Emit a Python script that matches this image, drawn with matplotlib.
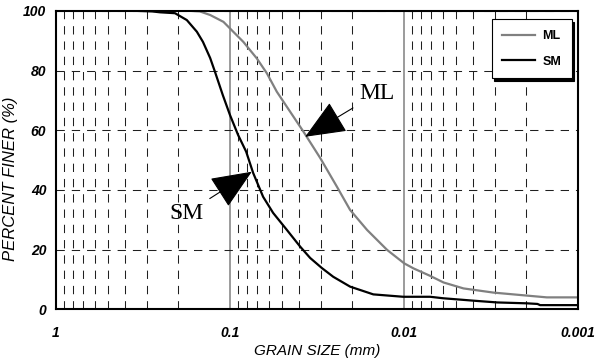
import matplotlib.pyplot as plt
import numpy as np

# grain size (mm) and percent finer
ml_size = [1.0, 0.25, 0.17, 0.149, 0.130, 0.109, 0.100, 0.0838, 0.0702, 0.0614,
           0.0538, 0.0451, 0.0378, 0.0303, 0.0243, 0.0204, 0.0163, 0.0125,
           0.00997, 0.00881, 0.00707, 0.00593, 0.00455, 0.00306, 0.00197,
           0.00151, 0.001]
ml_finer = [100, 100, 100, 99.8, 98.6, 96.3, 94.1, 89.6, 84.1, 79.1,
            72.9, 66.2, 59.5, 50.7, 41.1, 33.3, 26.6, 19.9,
            15.4, 13.7, 11.2, 9.0, 7.0, 5.6, 4.6,
            4.0, 4.0]

sm_size = [1.0, 0.35, 0.28, 0.252, 0.207, 0.177, 0.155, 0.143, 0.130, 0.122,
           0.110, 0.100, 0.0898, 0.0807, 0.0736, 0.0645, 0.0565, 0.0471,
           0.0395, 0.0346, 0.0296, 0.0255, 0.0204, 0.0150, 0.0101, 0.00707,
           0.00595, 0.0040, 0.00291, 0.00196, 0.00171, 0.00165, 0.001]
sm_finer = [100, 100, 99.8, 99.5, 99.2, 96.9, 93.0, 89.6, 84.2, 79.6,
            71.8, 65.1, 58.4, 52.8, 45.7, 37.7, 32.3, 26.6,
            21.0, 17.2, 13.8, 10.9, 7.6, 5.0, 4.2, 4.2,
            3.7, 2.9, 2.3, 2.0, 1.8, 1.4, 1.4]

x_ticks = [1, 0.1, 0.01, 0.001]
x_tick_labels = ['1', '0.1', '0.01', '0.001']
y_ticks = [0, 20, 40, 60, 80, 100]
y_tick_labels = ['0', '20', '40', '60', '80', '100']

plt.rcParams['font.family'] = ['Liberation Sans', 'DejaVu Sans']
plt.rcParams['lines.scale_dashes'] = False

fig = plt.figure(figsize=(5.98, 3.63), dpi=100)
ax = fig.add_axes([0.0936, 0.1479, 0.8729, 0.8223])

ax.set_xscale('log')
ax.set_xlim(1, 0.001)
ax.set_ylim(0, 100)

# grid: dashed minor verticals, solid gray decades, dashed horizontals
dash = (0, (6, 5))
ax.grid(which='minor', axis='x', color='#202020', lw=0.75, ls=dash)
ax.grid(which='major', axis='x', color='#808080', lw=1.1, ls='-')
ax.grid(which='major', axis='y', color='#202020', lw=0.75, ls=dash)
ax.set_axisbelow(True)

ax.plot(ml_size, ml_finer, color='#808080', lw=1.6, label='ML')
ax.plot(sm_size, sm_finer, color='black', lw=1.6, label='SM')

ax.set_xticks(x_ticks, labels=x_tick_labels, fontsize=10, fontweight='bold',
              fontstyle='italic')
ax.set_yticks(y_ticks, labels=y_tick_labels, fontsize=10, fontweight='bold',
              fontstyle='italic')
ax.tick_params(which='both', length=0)
ax.tick_params(axis='y', pad=7)
ax.tick_params(axis='x', pad=12)

ax.set_xlabel('GRAIN SIZE (mm)', fontsize=11, fontstyle='italic', labelpad=3)
ax.set_ylabel('PERCENT FINER (%)', fontsize=12, fontstyle='italic')
ax.yaxis.set_label_coords(-0.073, 0.438)

for s in ax.spines.values():
    s.set_linewidth(1.5)

arrow = dict(arrowstyle='-|>,head_length=1.3,head_width=0.55', color='black',
             lw=0.8, mutation_scale=20, shrinkA=3, shrinkB=0)
ax.annotate('ML', xy=(0.0370, 57.8), xytext=(0.0143, 72.3), fontsize=17,
            family='Liberation Serif', ha='center', va='center', arrowprops=arrow)
ax.annotate('SM', xy=(0.0749, 46.1), xytext=(0.178, 32.1), fontsize=17,
            family='Liberation Serif', ha='center', va='center', arrowprops=arrow)

leg = ax.legend(loc='upper right', bbox_to_anchor=(0.988, 0.9715), borderaxespad=0,
                fancybox=False, shadow={'color': 'black', 'alpha': 1},
                edgecolor='black', framealpha=1, labelspacing=1.1,
                handlelength=2.6, handletextpad=0.6, borderpad=0.85,
                prop={'size': 9, 'weight': 'bold'})
leg.get_frame().set_linewidth(0.8)

fig.savefig('out.png', dpi=100)
